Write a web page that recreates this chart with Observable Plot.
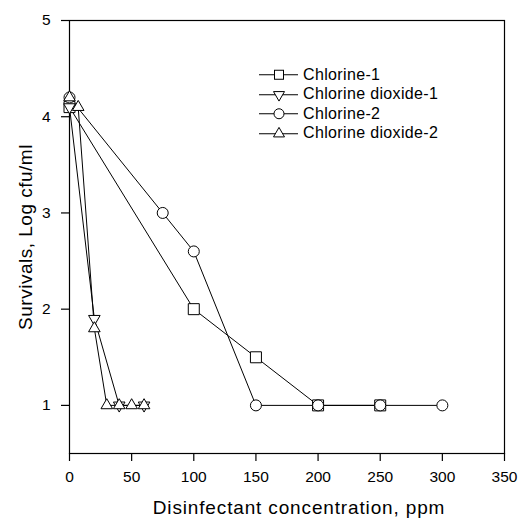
<!DOCTYPE html>
<html>
<head>
<meta charset="utf-8">
<script src="https://cdn.jsdelivr.net/npm/d3@7"></script>
<script src="https://cdn.jsdelivr.net/npm/@observablehq/plot@0.6"></script>
<style>
  body { margin: 0; background: #fff; }
  #wrap { position: relative; width: 520px; height: 518px; font-family: "Liberation Sans", Arial, sans-serif; color: #000; }
  #legend { position: absolute; left: 259px; top: 65px; }
  .row { display: flex; align-items: center; height: 19.5px; font-size: 16px; white-space: nowrap; }
  .row svg { display: block; }
  .row span { margin-left: 4px; letter-spacing: 0.35px; }
</style>
</head>
<body>
<div id="wrap"></div>
<script>
// ---- Data ----
const seriesNames = ["Chlorine-1", "Chlorine dioxide-1", "Chlorine-2", "Chlorine dioxide-2"];

const chlorine1X = [0, 100, 150, 200, 250];
const chlorine1Y = [4.1, 2.0, 1.5, 1.0, 1.0];

const dioxide1X = [0, 20, 40, 60];
const dioxide1Y = [4.1, 1.9, 1.0, 1.0];

const chlorine2X = [0, 75, 100, 150, 200, 250, 300];
const chlorine2Y = [4.2, 3.0, 2.6, 1.0, 1.0, 1.0, 1.0];

const dioxide2X = [0, 7, 20, 30, 40, 50, 60];
const dioxide2Y = [4.2, 4.1, 1.8, 1.0, 1.0, 1.0, 1.0];

const xTicks = [0, 50, 100, 150, 200, 250, 300, 350];
const yTicks = [1, 2, 3, 4, 5];
const xTitle = "Disinfectant concentration, ppm";
const yTitle = "Survivals, Log cfu/ml";

// ---- Build table ----
function rowsOf(name, xs, ys) { return xs.map((x, i) => ({series: name, x, y: ys[i]})); }
const s1 = rowsOf(seriesNames[0], chlorine1X, chlorine1Y);
const s2 = rowsOf(seriesNames[1], dioxide1X, dioxide1Y);
const s3 = rowsOf(seriesNames[2], chlorine2X, chlorine2Y);
const s4 = rowsOf(seriesNames[3], dioxide2X, dioxide2Y);
const all = [...s1, ...s2, ...s3, ...s4];

const triangleDown = {
  draw(context, size) {
    const y = -Math.sqrt(size / (3 * Math.sqrt(3)));
    context.moveTo(0, -y * 2);
    context.lineTo(-Math.sqrt(3) * y, y);
    context.lineTo(Math.sqrt(3) * y, y);
    context.closePath();
  }
};

const dotStyle = {x: "x", y: "y", fill: "white", stroke: "black", strokeWidth: 1};

const chart = Plot.plot({
  width: 520,
  height: 518,
  marginLeft: 69,
  marginRight: 16,
  marginTop: 20,
  marginBottom: 65,
  style: {fontFamily: "'Liberation Sans', Arial, sans-serif", fontSize: "15px", color: "#000", background: "#fff"},
  x: {domain: [0, 350]},
  y: {domain: [0.5, 5]},
  marks: [
    Plot.frame({stroke: "black", strokeWidth: 1.2}),
    Plot.axisX({ticks: xTicks, tickSize: 8, tickPadding: 9, label: null, tickFormat: d => String(d), fontSize: 15.5, stroke: "black", strokeWidth: 1.2}),
    Plot.axisY({ticks: yTicks, tickSize: 8, tickPadding: 11, label: null, tickFormat: d => String(d), fontSize: 15.5, stroke: "black", strokeWidth: 1.2}),
    Plot.line(all, {x: "x", y: "y", z: "series", stroke: "black", strokeWidth: 1}),
    Plot.dot(s1, {...dotStyle, symbol: "square", r: 6.2}),
    Plot.dot(s3, {...dotStyle, symbol: "circle", r: 5.5}),
    Plot.dot(s2, {...dotStyle, symbol: triangleDown, r: 4.3}),
    Plot.dot(s4, {...dotStyle, symbol: "triangle", r: 4.3}),
    Plot.text([xTitle], {text: d => d, frameAnchor: "bottom", textAnchor: "middle", lineAnchor: "middle", dx: 12, dy: 54, fontSize: 19}),
    Plot.text([yTitle], {text: d => d, frameAnchor: "left", textAnchor: "middle", lineAnchor: "middle", dx: -44, rotate: -90, fontSize: 19})
  ]
});

const wrap = document.getElementById("wrap");
wrap.appendChild(chart);

// widen titles slightly to match the reference's letter spacing
d3.select(chart).selectAll("text").each(function() {
  const t = this.textContent;
  if (t === xTitle) this.setAttribute("letter-spacing", "0.85");
  if (t === yTitle) this.setAttribute("letter-spacing", "0.5");
});

// ---- Legend (HTML overlay inside plot area) ----
const legendSymbols = ["square", "triangleDown", "circle", "triangle"];
const legend = document.createElement("div");
legend.id = "legend";
const NS = "http://www.w3.org/2000/svg";
seriesNames.forEach((name, i) => {
  const row = document.createElement("div");
  row.className = "row";
  const svg = document.createElementNS(NS, "svg");
  svg.setAttribute("width", 40);
  svg.setAttribute("height", 19.5);
  const line = document.createElementNS(NS, "line");
  line.setAttribute("x1", 0); line.setAttribute("x2", 39);
  line.setAttribute("y1", 9.75); line.setAttribute("y2", 9.75);
  line.setAttribute("stroke", "black"); line.setAttribute("stroke-width", 1);
  svg.appendChild(line);
  const cx = 20, cy = 9.75;
  let shape;
  const kind = legendSymbols[i];
  if (kind === "circle") {
    shape = document.createElementNS(NS, "circle");
    shape.setAttribute("cx", cx); shape.setAttribute("cy", cy); shape.setAttribute("r", 5);
  } else if (kind === "square") {
    shape = document.createElementNS(NS, "rect");
    shape.setAttribute("x", cx - 4.5); shape.setAttribute("y", cy - 4.5);
    shape.setAttribute("width", 9); shape.setAttribute("height", 9);
  } else {
    const s = 5.5, h = 9.5;
    const pts = kind === "triangle"
      ? [[cx, cy - h * 2 / 3], [cx - s, cy + h / 3], [cx + s, cy + h / 3]]
      : [[cx, cy + h * 2 / 3], [cx - s, cy - h / 3], [cx + s, cy - h / 3]];
    shape = document.createElementNS(NS, "polygon");
    shape.setAttribute("points", pts.map(p => p.join(",")).join(" "));
  }
  shape.setAttribute("fill", "white");
  shape.setAttribute("stroke", "black");
  shape.setAttribute("stroke-width", 1);
  svg.appendChild(shape);
  row.appendChild(svg);
  const label = document.createElement("span");
  label.textContent = name;
  row.appendChild(label);
  legend.appendChild(row);
});
wrap.appendChild(legend);
</script>
</body>
</html>
